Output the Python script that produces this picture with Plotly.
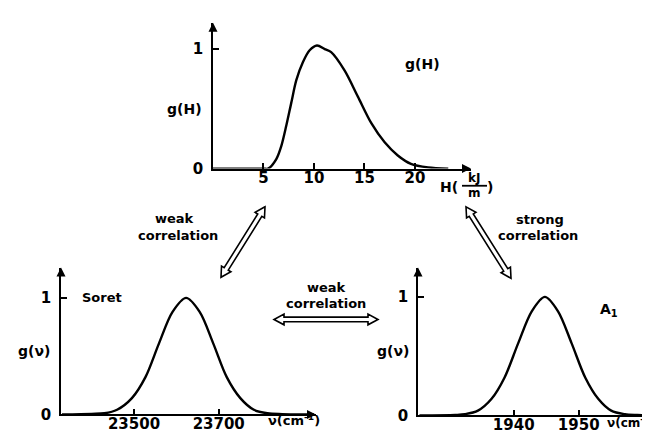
import math
import plotly.graph_objects as go

# ---------------- data ----------------
H_values = [0, 5.0, 5.45, 6.27, 6.77, 7.26, 7.75, 8.25, 8.9, 9.57, 10.3, 11.06, 11.7, 13.04, 14.36, 15.68, 17.0, 18.3, 19.6, 21.3, 23.3]
gH_values = [0, 0, 0, 0.08, 0.19, 0.36, 0.55, 0.74, 0.89, 0.99, 1.03, 1.0, 0.975, 0.82, 0.60, 0.38, 0.22, 0.11, 0.04, 0.01, 0]
H_ticks = [5, 10, 15, 20]

soret_nu = [23330, 23400, 23430, 23460, 23495, 23527, 23559, 23591, 23623, 23655, 23687, 23719, 23751, 23783, 23815, 23850, 23925]
soret_g = [0, 0.005, 0.01, 0.04, 0.14, 0.32, 0.61, 0.88, 1.0, 0.88, 0.61, 0.32, 0.14, 0.04, 0.01, 0.003, 0]
soret_ticks = [23500, 23700]

a1_nu = [1925.5, 1931, 1932.5, 1934.5, 1936.6, 1938.6, 1940.7, 1942.8, 1944.8, 1946.8, 1948.9, 1951.0, 1953.0, 1955.0, 1957.1, 1959, 1961]
a1_g = [0, 0.004, 0.01, 0.04, 0.14, 0.32, 0.61, 0.88, 1.0, 0.88, 0.61, 0.32, 0.14, 0.04, 0.01, 0.003, 0]
a1_ticks = [1940, 1950]

# axis ranges
H_range, gH_range = [0, 25.55], [0, 1.221]
soret_range, soret_yrange = [23327.6, 23929.7], [0, 1.2605]
a1_range, a1_yrange = [1925.28, 1961.43], [0, 1.248]

W, Hh = 650, 436
FONT = "DejaVu Sans"


def px(x):
    return x / W


def py(y):
    return 1 - y / Hh


fig = go.Figure()
curves = [(H_values, gH_values, "x", "y", 0.85), (soret_nu, soret_g, "x2", "y2", 0.9), (a1_nu, a1_g, "x3", "y3", 0.9)]
for xs, ys, xa, ya, sm in curves:
    fig.add_trace(go.Scatter(x=xs, y=ys, xaxis=xa, yaxis=ya, mode="lines",
                             line=dict(color="black", width=2.4, shape="spline", smoothing=sm)))

# arrow heads at the ends of each axis
for (xr, yr), xa, ya in [((H_range, gH_range), "x", "y"), ((soret_range, soret_yrange), "x2", "y2"),
                         ((a1_range, a1_yrange), "x3", "y3")]:
    fig.add_trace(go.Scatter(x=[xr[0], xr[1]], y=[yr[1], yr[0]], xaxis=xa, yaxis=ya, mode="markers",
                             cliponaxis=False, hoverinfo="skip",
                             marker=dict(symbol=["arrow-up", "arrow-right"], size=9, color="black",
                                         line=dict(width=0))))

tickfont = dict(family=FONT, size=15, color="black", weight="bold")


def xax(domain, rng, anchor, ticks, standoff):
    return dict(domain=domain, range=rng, anchor=anchor, showgrid=False, zeroline=False,
                showline=True, linecolor="black", linewidth=1.8, ticks="inside", ticklen=6,
                tickwidth=1.5, tickcolor="black", tickvals=ticks, ticktext=[str(t) for t in ticks],
                tickfont=tickfont, ticklabelstandoff=standoff, fixedrange=True)


def yax(domain, rng, anchor, standoff):
    return dict(domain=domain, range=rng, anchor=anchor, showgrid=False, zeroline=False,
                showline=True, linecolor="black", linewidth=1.8, ticks="inside", ticklen=6,
                tickwidth=1.5, tickcolor="black", tickvals=[0, 1], ticktext=["0", "1"],
                tickfont=tickfont, ticklabelstandoff=standoff, fixedrange=True)


fig.update_layout(
    width=W, height=Hh, margin=dict(l=0, r=0, t=0, b=0),
    paper_bgcolor="white", plot_bgcolor="white", showlegend=False,
    xaxis=xax([px(205), px(463)], H_range, "y", H_ticks, -6),
    yaxis=yax([py(164), py(15)], gH_range, "x", 5),
    xaxis2=xax([px(53), px(308)], soret_range, "y2", soret_ticks, -5),
    yaxis2=yax([py(415), py(265)], soret_yrange, "x2", 5),
    xaxis3=xax([px(410), px(645)], a1_range, "y3", a1_ticks, -5),
    yaxis3=yax([py(416), py(265)], a1_yrange, "x3", 5),
)

ann = []
lab = dict(family=FONT, size=13, color="black", weight="bold")


def text(t, x, y, anchor="center", size=None):
    f = dict(lab)
    if size:
        f["size"] = size
    ann.append(dict(text=t, x=px(x), y=py(y), xref="paper", yref="paper", showarrow=False,
                    xanchor=anchor, yanchor="middle", font=f))


text("g(H)", 176, 103, size=14)
text("g(H)", 415, 57, size=14)
text("H(", 441, 183, size=14)
text("kJ", 466, 174, size=12)
text("m", 466, 189, size=12)
text(")", 482, 183, size=14)
text("weak", 166, 215)
text("correlation", 170, 232)
text("strong", 532, 216)
text("correlation", 530, 232)
text("weak", 318, 285)
text("correlation", 318, 302)
text("g(ν)", 26, 350, size=14)
text("Soret", 94, 296)
text("ν(cm<sup>-1</sup>)", 286, 421)
text("g(ν)", 385, 350, size=14)
text("A<sub>1</sub>", 601, 308, size=14)
text("ν(cm<sup>-1</sup>", 597, 423, anchor="left", size=12)
fig.update_layout(annotations=ann)

# fraction bar of kJ/m
shapes = [dict(type="line", xref="paper", yref="paper", x0=px(454), x1=px(479), y0=py(181.5), y1=py(181.5),
               line=dict(color="black", width=1.8))]

# hollow double arrows (endpoints in pixels)
double_arrows = [((257, 203), (213, 275)), ((458, 203), (503, 276)), ((266, 318), (370, 318))]


def hollow(p1, p2, w=2.4, L=10, h=5.5):
    ux, uy = p2[0] - p1[0], p2[1] - p1[1]
    d = math.hypot(ux, uy)
    ux, uy = ux / d, uy / d
    nx, ny = -uy, ux
    pts = [
        p1,
        (p1[0] + L * ux + h * nx, p1[1] + L * uy + h * ny),
        (p1[0] + L * ux + w * nx, p1[1] + L * uy + w * ny),
        (p2[0] - L * ux + w * nx, p2[1] - L * uy + w * ny),
        (p2[0] - L * ux + h * nx, p2[1] - L * uy + h * ny),
        p2,
        (p2[0] - L * ux - h * nx, p2[1] - L * uy - h * ny),
        (p2[0] - L * ux - w * nx, p2[1] - L * uy - w * ny),
        (p1[0] + L * ux - w * nx, p1[1] + L * uy - w * ny),
        (p1[0] + L * ux - h * nx, p1[1] + L * uy - h * ny),
    ]
    path = "M " + " L ".join(f"{px(a):.5f},{py(b):.5f}" for a, b in pts) + " Z"
    return dict(type="path", xref="paper", yref="paper", path=path, fillcolor="white",
                line=dict(color="black", width=1.6))


for a, b in double_arrows:
    shapes.append(hollow(a, b))
fig.update_layout(shapes=shapes)

fig.write_html("out.html")
